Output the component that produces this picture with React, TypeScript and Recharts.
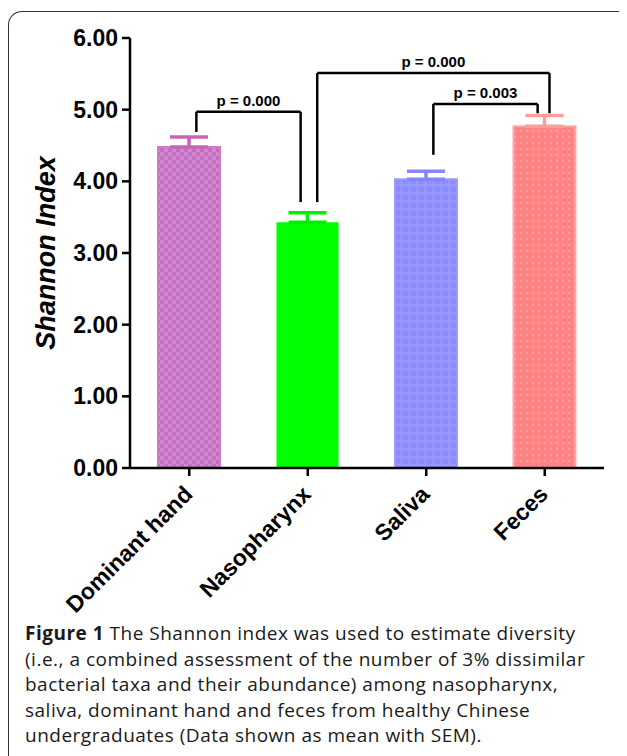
import { Bar, BarChart, ErrorBar, ReferenceDot, ReferenceLine, XAxis, YAxis } from "recharts"

const categories = ["Dominant hand", "Nasopharynx", "Saliva", "Feces"]
const means = [4.48, 3.43, 4.03, 4.77]
const sems = [0.14, 0.13, 0.11, 0.15]
const fills = ["url(#handPat)", "#00ff00", "url(#salivaPat)", "url(#fecesPat)"]
const edges = ["#cf7cc4", "#00ff00", "#9a9aff", "#ffa8a8"]
const errColors = ["#c764b6", "#00f000", "#8585ff", "#ff9c9c"]
const yTicks = [0, 1, 2, 3, 4, 5, 6]

// significance brackets, x in band units (0..4), y in index units
const bracketLeft = [0.56, 1.58, 2.56]
const bracketRight = [1.44, 3.54, 3.44]
const bracketTop = [4.97, 5.51, 5.08]
const bracketLeftFoot = [4.69, 3.71, 4.37]
const bracketRightFoot = [3.71, 4.95, 4.95]
const pLabels = ["p = 0.000", "p = 0.000", "p = 0.003"]

const rows = categories.map((name, i) => {
  const r: any = { name, pos: i + 0.5 }
  r["v" + i] = means[i]
  r["e" + i] = [0, sems[i]]
  return r
})

const font = "'Liberation Sans', Arial, sans-serif"

function XTick(props: any) {
  const { x, y, payload } = props
  return (
    <g transform={`translate(${x - 1},${y + 12}) rotate(-45)`}>
      <text x={0} y={0} dy={8} textAnchor="end" fontFamily={font} fontWeight="bold" fontSize={23} fill="#000">
        {payload.value}
      </text>
    </g>
  )
}

function App() {
  return (
    <div style={{ position: "relative", width: 619, height: 748, overflow: "hidden" }}>
      <div
        style={{
          position: "absolute",
          left: 0,
          top: 3,
          width: 800,
          height: 900,
          borderLeft: "1.5px solid #333",
          borderTop: "1.5px solid #333",
          borderTopLeftRadius: 14,
        }}
      />
      <div style={{ position: "absolute", left: 0, top: 0 }}>
        <BarChart width={619} height={620} data={rows} margin={{ top: 30, right: 23, bottom: 0, left: 0 }}>
          <defs>
            <pattern id="handPat" width="8" height="8" patternUnits="userSpaceOnUse">
              <rect width="8" height="8" fill="#cc6cb9" />
              <rect width="4" height="4" fill="#c58bd6" />
              <rect x="4" y="4" width="4" height="4" fill="#c58bd6" />
            </pattern>
            <pattern id="salivaPat" width="8" height="8" patternUnits="userSpaceOnUse">
              <rect width="8" height="8" fill="#8d8dff" />
              <rect width="8" height="2" fill="#9797ff" />
              <rect width="2" height="8" fill="#9797ff" />
            </pattern>
            <pattern id="fecesPat" width="6" height="6" patternUnits="userSpaceOnUse">
              <rect width="6" height="6" fill="#ff8383" />
              <circle cx="3" cy="3" r="1.2" fill="#ffa0a0" />
            </pattern>
          </defs>
          <XAxis
            xAxisId="c0"
            dataKey="name"
            interval={0}
            height={160}
            tick={<XTick />}
            tickSize={8}
            axisLine={{ stroke: "#000", strokeWidth: 2.5 }}
            tickLine={{ stroke: "#000", strokeWidth: 2.5 }}
          />
          <XAxis xAxisId="c1" dataKey="name" hide />
          <XAxis xAxisId="c2" dataKey="name" hide />
          <XAxis xAxisId="c3" dataKey="name" hide />
          <XAxis xAxisId="num" dataKey="pos" type="number" domain={[0, 4]} hide />
          <YAxis
            width={122}
            domain={[0, 6]}
            ticks={yTicks}
            interval={0}
            tickFormatter={(v: number) => v.toFixed(2)}
            tickSize={8}
            tickMargin={4}
            axisLine={{ stroke: "#000", strokeWidth: 2.5 }}
            tickLine={{ stroke: "#000", strokeWidth: 2.5 }}
            tick={{ fill: "#000", fontSize: 23, fontWeight: "bold", fontFamily: font }}
            label={{
              value: "Shannon Index",
              angle: -90,
              position: "insideLeft",
              offset: 37,
              textAnchor: "middle",
              style: { fill: "#000", fontSize: 27, fontWeight: "bold", fontStyle: "italic", fontFamily: font, textAnchor: "middle" },
            }}
          />
          {categories.map((c, i) => (
            <Bar
              key={c}
              xAxisId={"c" + i}
              dataKey={"v" + i}
              fill={fills[i]}
              stroke={edges[i]}
              strokeWidth={i === 1 ? 0 : 2}
              barSize={62}
              isAnimationActive={false}
            >
              <ErrorBar dataKey={"e" + i} width={19} stroke={errColors[i]} strokeWidth={3.5} direction="y" />
            </Bar>
          ))}
          {pLabels.map((p, i) => (
            <ReferenceLine
              key={"l" + i}
              xAxisId="num"
              ifOverflow="visible"
              stroke="#000"
              strokeWidth={2.5}
              segment={[
                { x: bracketLeft[i], y: bracketLeftFoot[i] },
                { x: bracketLeft[i], y: bracketTop[i] },
              ]}
            />
          ))}
          {pLabels.map((p, i) => (
            <ReferenceLine
              key={"t" + i}
              xAxisId="num"
              ifOverflow="visible"
              stroke="#000"
              strokeWidth={2.5}
              segment={[
                { x: bracketLeft[i], y: bracketTop[i] },
                { x: bracketRight[i], y: bracketTop[i] },
              ]}
            />
          ))}
          {pLabels.map((p, i) => (
            <ReferenceLine
              key={"r" + i}
              xAxisId="num"
              ifOverflow="visible"
              stroke="#000"
              strokeWidth={2.5}
              segment={[
                { x: bracketRight[i], y: bracketTop[i] },
                { x: bracketRight[i], y: bracketRightFoot[i] },
              ]}
            />
          ))}
          {pLabels.map((p, i) => (
            <ReferenceDot
              key={"p" + i}
              xAxisId="num"
              x={(bracketLeft[i] + bracketRight[i]) / 2}
              y={bracketTop[i]}
              r={0}
              fill="none"
              stroke="none"
              ifOverflow="visible"
              label={{
                value: p,
                position: "top",
                offset: 6,
                style: { fill: "#000", fontSize: 15, fontWeight: "bold", fontFamily: font },
              }}
            />
          ))}
        </BarChart>
      </div>
      <div
        style={{
          position: "absolute",
          left: 17,
          top: 613,
          fontFamily: "'Open Sans', sans-serif",
          fontSize: 19,
          letterSpacing: 0.5,
          lineHeight: "25.5px",
          color: "#1a1a1a",
          whiteSpace: "nowrap",
        }}
      >
        <div>
          <b>Figure 1</b> The Shannon index was used to estimate diversity
        </div>
        <div>(i.e., a combined assessment of the number of 3% dissimilar</div>
        <div>bacterial taxa and their abundance) among nasopharynx,</div>
        <div>saliva, dominant hand and feces from healthy Chinese</div>
        <div>undergraduates (Data shown as mean with SEM).</div>
      </div>
    </div>
  )
}

export default App
